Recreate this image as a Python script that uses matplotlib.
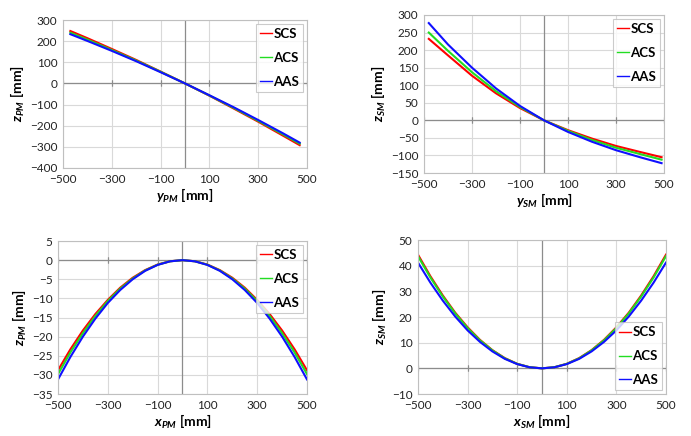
import matplotlib
matplotlib.use("Agg")
import matplotlib.pyplot as plt

# ----------------------------------------------------------
# Data (mm)
# ----------------------------------------------------------
series = ["SCS", "ACS", "AAS"]
colors = ["#ff0000", "#22dd22", "#1010ff"]

# primary mirror, y-z section
y_pm = [-470, -400, -300, -200, -100, 0, 100, 200, 300, 400, 470]
z_pm_y = {
    "SCS": [248, 214, 163, 111, 56, 0, -58, -119, -181, -246, -292],
    "ACS": [240, 207, 158, 108, 55, 0, -57, -116, -177, -240, -285],
    "AAS": [233, 201, 154, 105, 53, 0, -56, -113, -173, -235, -280],
}

# secondary mirror, y-z section
y_sm = [-480, -400, -300, -200, -100, 0, 100, 200, 300, 400, 490]
z_sm_y = {
    "SCS": [232, 185, 127, 77, 35, 0, -28, -52, -73, -90, -105],
    "ACS": [250, 198, 137, 83, 38, 0, -30, -56, -78, -96, -112],
    "AAS": [277, 216, 150, 91, 41, 0, -33, -61, -85, -105, -122],
}

# primary mirror, x-z section
x_pm = [-500, -450, -400, -350, -300, -250, -200, -150, -100, -50, 0,
        50, 100, 150, 200, 250, 300, 350, 400, 450, 500]
z_pm_x = {
    "SCS": [-28.8, -23.3, -18.4, -14.1, -10.4, -7.2, -4.6, -2.6, -1.15, -0.29, 0,
            -0.29, -1.15, -2.6, -4.6, -7.2, -10.4, -14.1, -18.4, -23.3, -28.8],
    "ACS": [-29.8, -24.1, -19.1, -14.6, -10.7, -7.45, -4.8, -2.7, -1.2, -0.3, 0,
            -0.3, -1.2, -2.7, -4.8, -7.45, -10.7, -14.6, -19.1, -24.1, -29.8],
    "AAS": [-31.2, -25.3, -20.0, -15.3, -11.2, -7.8, -5.0, -2.8, -1.25, -0.31, 0,
            -0.31, -1.25, -2.8, -5.0, -7.8, -11.2, -15.3, -20.0, -25.3, -31.2],
}

# secondary mirror, x-z section
x_sm = x_pm
z_sm_x = {
    "SCS": [44.3, 35.9, 28.4, 21.7, 16.0, 11.1, 7.1, 4.0, 1.77, 0.44, 0,
            0.44, 1.77, 4.0, 7.1, 11.1, 16.0, 21.7, 28.4, 35.9, 44.3],
    "ACS": [43.7, 35.4, 28.0, 21.4, 15.7, 10.9, 7.0, 3.9, 1.75, 0.44, 0,
            0.44, 1.75, 3.9, 7.0, 10.9, 15.7, 21.4, 28.0, 35.4, 43.7],
    "AAS": [41.2, 33.4, 26.4, 20.2, 14.8, 10.3, 6.6, 3.7, 1.65, 0.41, 0,
            0.41, 1.65, 3.7, 6.6, 10.3, 14.8, 20.2, 26.4, 33.4, 41.2],
}

xticks = [-500, -300, -100, 100, 300, 500]

# ----------------------------------------------------------
# Style
# ----------------------------------------------------------
plt.rcParams["font.family"] = ["Lato", "DejaVu Sans"]
plt.rcParams["mathtext.fontset"] = "custom"
plt.rcParams["mathtext.it"] = "Lato:bold:italic"
plt.rcParams["mathtext.rm"] = "Lato:bold"
plt.rcParams["mathtext.bf"] = "Lato:bold"

fig = plt.figure(figsize=(6.91, 4.36), dpi=100)

panels = [
    # rect, x, data, ylim, yticks, xlabel, ylabel, legend loc
    ([0.0912, 0.6147, 0.3531, 0.3394], y_pm, z_pm_y, (-400, 300),
     range(-400, 301, 100), r"$y_{PM}$ [mm]", r"$z_{PM}$ [mm]", "upper right"),
    ([0.6136, 0.6032, 0.3473, 0.3624], y_sm, z_sm_y, (-150, 300),
     range(-150, 301, 50), r"$y_{SM}$ [mm]", r"$z_{SM}$ [mm]", "upper right"),
    ([0.0839, 0.0963, 0.3604, 0.3509], x_pm, z_pm_x, (-35, 5),
     range(-35, 6, 5), r"$x_{PM}$ [mm]", r"$z_{PM}$ [mm]", "upper right"),
    ([0.6049, 0.0963, 0.3589, 0.3532], x_sm, z_sm_x, (-10, 50),
     range(-10, 51, 10), r"$x_{SM}$ [mm]", r"$z_{SM}$ [mm]", "lower right"),
]

for rect, xs, data, ylim, yticks, xlab, ylab, loc in panels:
    ax = fig.add_axes(rect)
    for name, col in zip(series, colors):
        ax.plot(xs, data[name], color=col, lw=1.5,
                solid_joinstyle="round", label=name)

    ax.set_xlim(-500, 500)
    ax.set_ylim(*ylim)
    ax.set_xticks(xticks)
    ax.set_yticks(list(yticks))
    ax.grid(True, color="#d9d9d9", lw=0.8)
    ax.set_axisbelow(True)
    ax.tick_params(length=0, labelsize=8.5, pad=4, colors="#222222")

    # Excel-style axes crossing at zero
    ax.axvline(0, color="#8c8c8c", lw=0.9, zorder=1)
    ax.axhline(0, color="#8c8c8c", lw=0.9, zorder=1)
    for xt in xticks:
        ax.plot([xt, xt], [0, 0], marker="|", ms=4, color="#8c8c8c",
                mew=0.8, zorder=1)

    for s in ax.spines.values():
        s.set_color("#bfbfbf")
        s.set_linewidth(0.8)

    ax.set_xlabel(xlab, fontsize=10, fontweight="bold", labelpad=2)
    ax.set_ylabel(ylab, fontsize=10, fontweight="bold", labelpad=2)

    leg = ax.legend(loc=loc, frameon=True, fancybox=False, borderpad=0.3,
                    handlelength=0.9, handletextpad=0.1, labelspacing=0.9,
                    borderaxespad=0.3, prop={"weight": "bold", "size": 9.5})
    leg.get_frame().set_edgecolor("#bfbfbf")
    leg.get_frame().set_linewidth(0.8)
    for h in leg.get_lines():
        h.set_linewidth(1.0)

fig.savefig("out.png", dpi=100)
